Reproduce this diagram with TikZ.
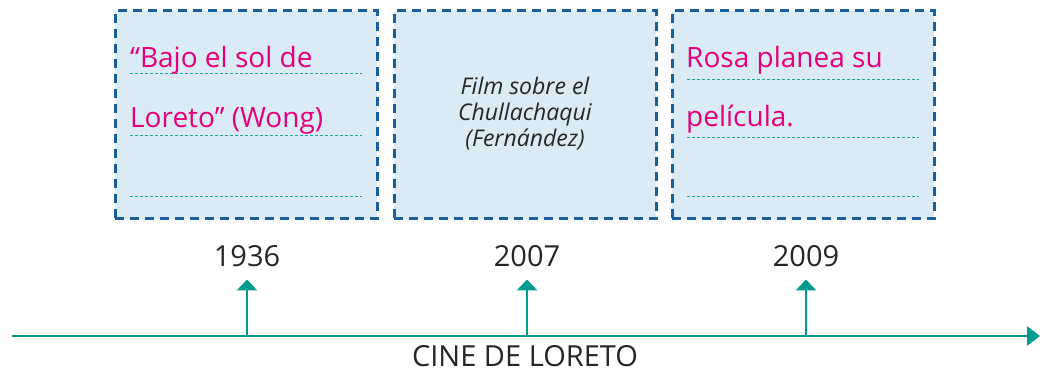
\documentclass[tikz,border=0pt]{standalone}
\usepackage{fontspec}
\setmainfont{Open Sans}
\usetikzlibrary{arrows.meta}
\definecolor{cardline}{HTML}{1B5E9E}
\definecolor{cardfill}{HTML}{DAEBF5}
\definecolor{linegreen}{HTML}{009B8F}
\definecolor{rulegreen}{HTML}{1AA89C}
\definecolor{inkpink}{HTML}{E4007C}
\definecolor{inkgray}{HTML}{262626}
\begin{document}
\begin{tikzpicture}[x=1pt,y=-1pt,
    card/.style={draw=cardline,fill=cardfill,line width=3pt,dash pattern=on 9pt off 6pt,minimum width=262pt,minimum height=208pt,inner sep=0pt},
    rule/.style={draw=rulegreen,line width=1pt,dash pattern=on 3pt off 2pt},
    answer/.style={text=inkpink,font=\fontsize{28}{34}\selectfont,anchor=base west,inner sep=0pt},
    year/.style={text=inkgray,font=\fontsize{29}{34}\selectfont,anchor=base,inner sep=0pt},
    axis/.style={draw=linegreen,line width=2.8pt,-{Triangle[length=13pt,width=19pt]}},
    tick/.style={draw=linegreen,line width=2.8pt,-{Triangle[length=11pt,width=20pt]},shorten >=12pt}]
    \useasboundingbox (0,0) rectangle (1044,371);
    % cards
    \node [card] (c1) at (246,115) {};
    \node [card] (c2) at (525,115) {};
    \node [card] (c3) at (803,115) {};
    % writing lines
    \foreach \h in {74,136,197} \draw [rule] (130,\h) -- (362,\h);
    \foreach \h in {80,138,197} \draw [rule] (687,\h) -- (919,\h);
    \node [answer] (w1) at (130,68) {“Bajo el sol de};
    \node [answer] (w2) at (130,128) {Loreto” (Wong)};
    \node [answer] (w3) at (686,68) {Rosa planea su};
    \node [answer] (w4) at (686,127) {película.};
    \node [text=inkgray,font=\fontsize{23}{26}\selectfont\itshape,align=center] (f) at (525,114) {Film sobre el\\Chullachaqui\\(Fernández)};
    % timeline
    \coordinate (a0) at (12,336);
    \coordinate (a1) at (1040,336);
    \draw [axis] (a0) -- (a1);
    \node [year] (y1) at (247,267) {1936};
    \node [year] (y2) at (527,267) {2007};
    \node [year] (y3) at (806,267) {2009};
    \coordinate (t1) at (247,336);
    \coordinate (t2) at (527,336);
    \coordinate (t3) at (806,336);
    \draw [tick] (t1) -- (y1.south);
    \draw [tick] (t2) -- (y2.south);
    \draw [tick] (t3) -- (y3.south);
    \node [year] (cine) at (525,366) {CINE DE LORETO};
\end{tikzpicture}
\end{document}
